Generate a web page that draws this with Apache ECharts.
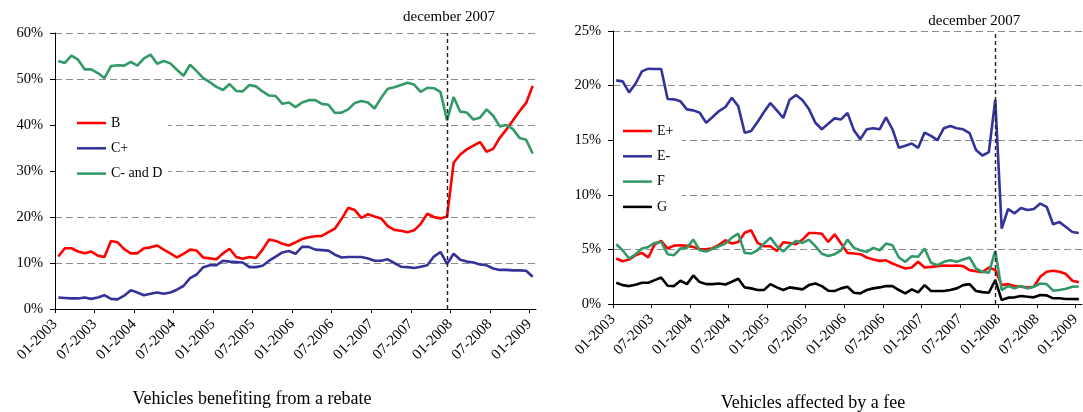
<!DOCTYPE html>
<html>
<head>
<meta charset="utf-8">
<script src="https://cdn.jsdelivr.net/npm/echarts@6/dist/echarts.min.js"></script>
<style>
  html, body { margin: 0; padding: 0; background: #fff; }
  #chart { width: 1083px; height: 412px; }
</style>
</head>
<body>
<div id="chart"></div>
<script>
// tick labels, one every 6 months (01-2003 .. 01-2009)
var tickLabels = ['01-2003', '07-2003', '01-2004', '07-2004', '01-2005', '07-2005', '01-2006',
  '07-2006', '01-2007', '07-2007', '01-2008', '07-2008', '01-2009']
var monthCount = 73 // 01-2003 .. 01-2009
var decemberIndex = 59 // december 2007

// left panel : vehicles benefiting from a rebate (%)
var seriesB = [11.4, 13.2, 13.2, 12.5, 12.1, 12.5, 11.6, 11.3, 14.8, 14.5,
  13.0, 12.1, 12.1, 13.2, 13.4, 13.8, 12.9, 12.1, 11.2, 12.0,
  12.9, 12.7, 11.2, 11.0, 10.8, 12.1, 13.1, 11.3, 10.9, 11.3,
  11.1, 12.9, 15.1, 14.8, 14.2, 13.8, 14.5, 15.2, 15.6, 15.8,
  15.9, 16.7, 17.5, 19.6, 22.0, 21.5, 19.8, 20.6, 20.1, 19.7,
  18.0, 17.2, 17.0, 16.7, 17.1, 18.5, 20.7, 20.0, 19.7, 20.1,
  31.8, 33.6, 34.7, 35.5, 36.3, 34.2, 34.8, 37.2, 39.0, 41.0,
  43.0, 44.8, 48.5]
var seriesCplus = [2.5, 2.4, 2.3, 2.3, 2.5, 2.2, 2.5, 3.0, 2.2, 2.1,
  2.9, 4.1, 3.6, 3.0, 3.3, 3.6, 3.3, 3.6, 4.2, 5.0,
  6.7, 7.5, 9.1, 9.5, 9.5, 10.5, 10.3, 10.2, 10.1, 9.1,
  9.1, 9.4, 10.5, 11.4, 12.3, 12.6, 12.0, 13.5, 13.5, 12.9,
  12.8, 12.7, 11.8, 11.2, 11.3, 11.3, 11.3, 11.0, 10.5, 10.5,
  10.8, 10.0, 9.2, 9.1, 8.9, 9.2, 9.5, 11.4, 12.4, 9.8,
  12.0, 10.7, 10.3, 10.1, 9.7, 9.5, 8.8, 8.5, 8.5, 8.4,
  8.4, 8.3, 7.0]
var seriesCminusD = [53.9, 53.5, 55.1, 54.2, 52.1, 52.1, 51.3, 50.2, 52.8, 53.0,
  52.9, 53.7, 52.9, 54.5, 55.3, 53.3, 53.9, 53.4, 52.0, 50.7,
  53.1, 51.7, 50.2, 49.3, 48.3, 47.6, 48.9, 47.4, 47.3, 48.7,
  48.4, 47.3, 46.4, 46.3, 44.6, 44.9, 43.9, 44.9, 45.4, 45.4,
  44.6, 44.4, 42.6, 42.7, 43.4, 44.8, 45.2, 44.9, 43.6, 45.9,
  47.9, 48.2, 48.7, 49.2, 48.8, 47.2, 48.1, 48.0, 47.2, 41.0,
  46.1, 42.9, 42.7, 41.2, 41.6, 43.4, 42.0, 39.7, 40.0, 39.1,
  37.2, 36.8, 33.8]

// right panel : vehicles affected by a fee (%)
var seriesEplus = [4.16, 3.92, 4.07, 4.47, 4.68, 4.26, 5.47, 5.78, 5.08, 5.35,
  5.38, 5.32, 5.23, 5.02, 5.02, 5.11, 5.41, 5.84, 5.53, 5.68,
  6.53, 6.75, 5.59, 5.29, 5.29, 4.86, 5.65, 5.59, 5.47, 5.9,
  6.5, 6.5, 6.44, 5.68, 6.38, 5.53, 4.68, 4.62, 4.56, 4.26,
  4.07, 3.95, 4.0, 3.71, 3.47, 3.25, 3.34, 3.86, 3.34, 3.4,
  3.47, 3.53, 3.5, 3.53, 3.47, 3.1, 3.0, 2.92, 3.34, 3.1,
  1.73, 1.82, 1.64, 1.58, 1.52, 1.58, 2.49, 2.95, 3.04, 2.95,
  2.74, 2.13, 2.0]
var seriesEminus = [20.48, 20.39, 19.38, 20.17, 21.3, 21.55, 21.52, 21.52, 18.77, 18.74,
  18.56, 17.82, 17.73, 17.52, 16.6, 17.12, 17.67, 18.04, 18.89, 18.1,
  15.68, 15.84, 16.66, 17.58, 18.4, 17.73, 17.03, 18.71, 19.14, 18.65,
  17.85, 16.6, 16.0, 16.5, 17.0, 16.9, 17.5, 15.9, 15.1, 16.0,
  16.1, 16.0, 17.1, 16.0, 14.3, 14.5, 14.7, 14.3, 15.7, 15.4,
  15.0, 16.1, 16.3, 16.1, 16.0, 15.65, 14.1, 13.6, 13.9, 18.7,
  6.9, 8.7, 8.3, 8.8, 8.6, 8.7, 9.2, 8.9, 7.3, 7.5,
  7.05, 6.6, 6.5]
var seriesF = [5.47, 4.92, 4.16, 4.56, 5.08, 5.23, 5.59, 5.68, 4.56, 4.47,
  5.08, 5.14, 5.9, 4.92, 4.8, 5.05, 5.29, 5.53, 6.08, 6.44,
  4.68, 4.62, 4.92, 5.53, 6.08, 5.29, 4.8, 5.38, 5.78, 5.59,
  5.9, 5.3, 4.6, 4.4, 4.56, 4.92, 5.9, 5.14, 4.92, 4.77,
  5.14, 4.92, 5.53, 5.38, 4.26, 3.86, 4.38, 4.32, 5.08, 3.77,
  3.56, 3.86, 4.0, 3.86, 4.07, 4.26, 3.25, 2.95, 2.86, 4.86,
  1.28, 1.64, 1.43, 1.64, 1.43, 1.58, 1.88, 1.82, 1.22, 1.28,
  1.4, 1.58, 1.6]
var seriesG = [1.95, 1.73, 1.64, 1.76, 1.95, 1.95, 2.19, 2.43, 1.67, 1.64,
  2.13, 1.82, 2.61, 2.01, 1.82, 1.82, 1.88, 1.79, 2.04, 2.31,
  1.52, 1.43, 1.28, 1.28, 1.82, 1.52, 1.28, 1.52, 1.43, 1.34,
  1.73, 1.88, 1.64, 1.22, 1.19, 1.43, 1.58, 1.03, 0.97, 1.28,
  1.43, 1.52, 1.64, 1.64, 1.28, 0.97, 1.34, 1.06, 1.73, 1.19,
  1.19, 1.19, 1.28, 1.43, 1.73, 1.82, 1.19, 1.09, 1.03, 2.19,
  0.36, 0.58, 0.61, 0.73, 0.67, 0.61, 0.82, 0.79, 0.52, 0.52,
  0.46, 0.46, 0.45]

var FONT = '"Liberation Serif", "Times New Roman", serif'
var RED = '#ff0000'
var BLUE = '#333399'
var GREEN = '#339966'
var BLACK = '#000000'

// month i is drawn in the middle of its slot, ticks sit on the slot borders
function toPoints (values) {
  return values.map(function (v, i) { return [i + 0.5, v] })
}

var tickValues = tickLabels.map(function (t, k) { return k * 6 })

function xAxisFor (gridIndex) {
  return {
    type: 'value',
    gridIndex: gridIndex,
    min: 0,
    max: monthCount,
    interval: 6,
    axisLine: { lineStyle: { color: BLACK, width: 1 } },
    axisTick: { show: true, length: 4, lineStyle: { color: BLACK }, customValues: tickValues },
    axisLabel: {
      customValues: tickValues,
      rotate: 45,
      margin: 13,
      color: BLACK,
      fontFamily: FONT,
      fontSize: 15,
      formatter: function (v) {
        return v % 6 === 0 && v / 6 < tickLabels.length ? tickLabels[v / 6] : ''
      }
    },
    splitLine: { show: false }
  }
}

function yAxisFor (gridIndex, max, interval) {
  return {
    type: 'value',
    gridIndex: gridIndex,
    min: 0,
    max: max,
    interval: interval,
    axisLine: { show: true, lineStyle: { color: BLACK, width: 1 } },
    axisTick: { show: true, length: 5, lineStyle: { color: BLACK } },
    axisLabel: { formatter: '{value}%', margin: 12, color: BLACK, fontFamily: FONT, fontSize: 14.5 },
    splitLine: { show: true, lineStyle: { color: '#8c8c8c', type: [7, 4], width: 1 } }
  }
}

function lineSeries (name, values, color, axisIndex) {
  return {
    name: name,
    type: 'line',
    xAxisIndex: axisIndex,
    yAxisIndex: axisIndex,
    data: toPoints(values),
    symbol: 'none',
    lineStyle: { color: color, width: 2.6 },
    itemStyle: { color: color }
  }
}

// dashed marker on december 2007, label sits above the plot
function decemberLine (labelDistance, labelShift) {
  return {
    silent: true,
    symbol: 'none',
    lineStyle: { color: '#222', type: [4, 3], width: 1.4 },
    label: {
      show: true,
      position: 'end',
      formatter: 'december 2007',
      color: BLACK,
      fontFamily: FONT,
      fontSize: 15,
      distance: labelDistance,
      offset: [labelShift, 0]
    },
    data: [{ xAxis: decemberIndex + 0.5 }]
  }
}

var legendBase = {
  orient: 'vertical',
  icon: 'path://M0,0H30V2.6H0Z',
  itemWidth: 29,
  itemHeight: 14,
  itemGap: 11.3,
  backgroundColor: '#ffffff',
  selectedMode: false,
  textStyle: { color: BLACK, fontFamily: FONT, fontSize: 14 }
}

var sB = lineSeries('B', seriesB, RED, 0)
sB.markLine = decemberLine(8, 2)
var sEminus = lineSeries('E-', seriesEminus, BLUE, 1)
sEminus.markLine = decemberLine(2, -21)

var chart = echarts.init(document.getElementById('chart'), null, { renderer: 'canvas' })
chart.setOption({
  animation: false,
  backgroundColor: '#ffffff',
  grid: [
    { left: 55, top: 33, width: 481, height: 276 },
    { left: 613, top: 31, width: 478, height: 273 }
  ],
  xAxis: [xAxisFor(0), xAxisFor(1)],
  yAxis: [yAxisFor(0, 60, 10), yAxisFor(1, 25, 5)],
  legend: [
    Object.assign({}, legendBase, {
      data: ['B', 'C+', 'C- and D'], left: 56, top: 104, padding: [12, 6, 4, 21]
    }),
    Object.assign({}, legendBase, {
      data: ['E+', 'E-', 'F', 'G'], left: 614, top: 112, padding: [12, 8, 4, 9]
    })
  ],
  graphic: [
    { type: 'text', x: 252, y: 399, style: { text: 'Vehicles benefiting from a rebate', font: '18px ' + FONT, fill: BLACK, textAlign: 'center', textVerticalAlign: 'middle' } },
    { type: 'text', x: 813, y: 403, style: { text: 'Vehicles affected by a fee', font: '18px ' + FONT, fill: BLACK, textAlign: 'center', textVerticalAlign: 'middle' } }
  ],
  series: [
    sB,
    lineSeries('C+', seriesCplus, BLUE, 0),
    lineSeries('C- and D', seriesCminusD, GREEN, 0),
    lineSeries('E+', seriesEplus, RED, 1),
    sEminus,
    lineSeries('F', seriesF, GREEN, 1),
    lineSeries('G', seriesG, BLACK, 1)
  ]
})
</script>
</body>
</html>
